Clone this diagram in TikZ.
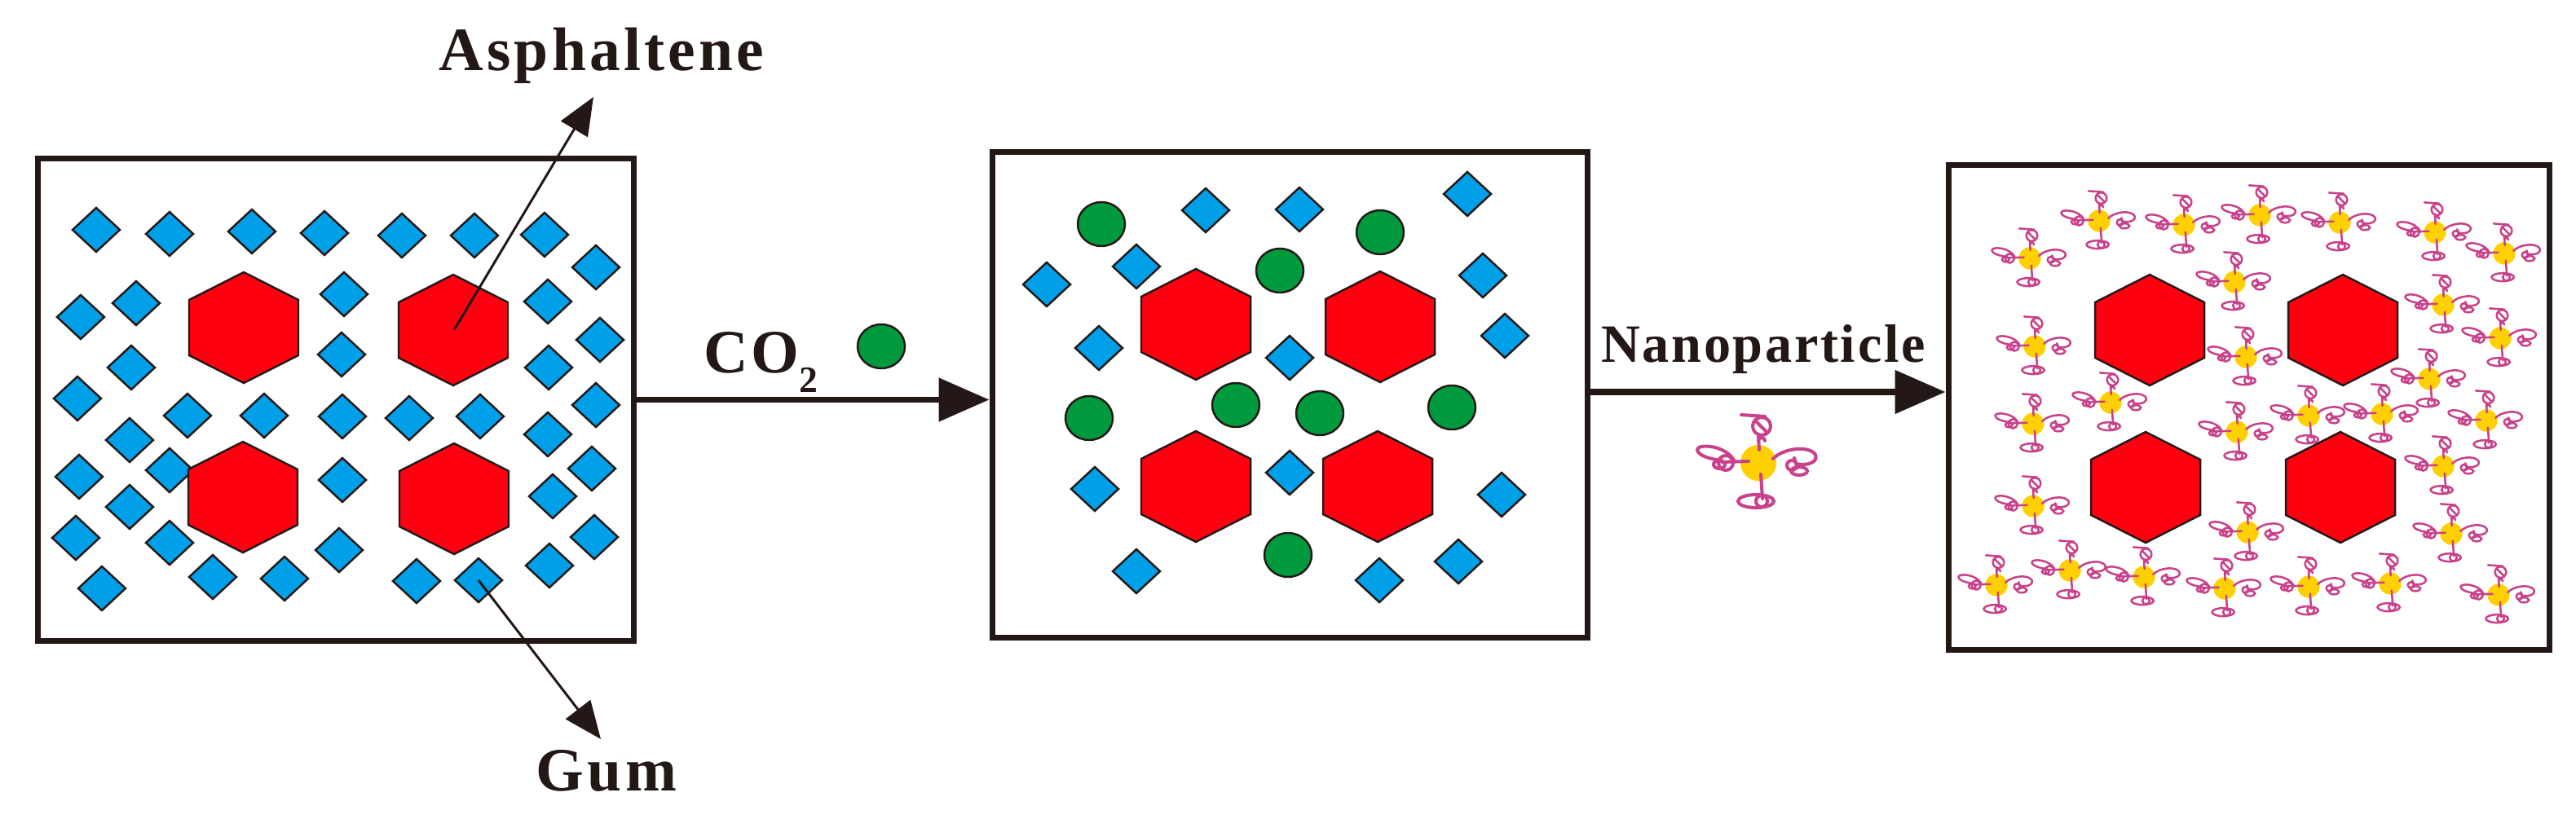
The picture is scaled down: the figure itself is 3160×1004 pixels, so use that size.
\documentclass[tikz,border=0pt]{standalone}
\usepackage{fontspec}
\setmainfont{Liberation Serif}
\usetikzlibrary{arrows.meta}
\definecolor{gblue}{RGB}{0,160,233}
\definecolor{ggreen}{RGB}{0,154,62}
\definecolor{hred}{RGB}{255,0,16}
\definecolor{npy}{RGB}{255,208,0}
\definecolor{npm}{RGB}{200,65,138}
\definecolor{ink}{RGB}{35,24,21}
\newcommand\hexa[2]{\draw[hexs] (#1,#2-68) -- (#1+67,#2-34) -- (#1+67,#2+34) -- (#1,#2+68) -- (#1-67,#2+34) -- (#1-67,#2-34) -- cycle;}
\newcommand\dia[2]{\draw[dias] (#1,#2-27) -- (#1+29,#2) -- (#1,#2+27) -- (#1-29,#2) -- cycle;}
\newcommand\gas[2]{\draw[gass] (#1,#2) ellipse [x radius=29, y radius=27];}
\newcommand\nanop[3]{\begin{scope}[shift={(#1,#2)},scale=#3,np/.style={draw=npm,line width=#3*2.3pt,line cap=round}]
 \fill[npy] (0,0) circle [radius=22];
 % left
 \draw[np] (-12,-2) -- (-45,-1);
 \draw[np] (-30,-3) .. controls (-40,-22) and (-75,-24) .. (-75,-16) .. controls (-74,-8) and (-55,-4) .. (-45,-3);
 \draw[np] (-40,0) circle [radius=9];
 \draw[np] (-48,2) ellipse [x radius=7, y radius=5];
 % right
 \draw[np] (18,-5) .. controls (30,-18) and (62,-22) .. (70,-10) .. controls (74,0) and (58,4) .. (46,1);
 \draw[np] (41,3) circle [radius=6];
 \draw[np] (50,10) ellipse [x radius=10, y radius=5];
 \draw[np] (44,-6) -- (48,6);
 % up
 \draw[np] (1,-16) -- (0,-33);
 \draw[np] (4,-45) circle [radius=11];
 \draw[np] (-21,-59) -- (8,-57);
 \draw[np] (-4,-52) -- (10,-38);
 \draw[np] (8,-27) arc (0:-180:4);
 % down
 \draw[np] (3,14) -- (5,44);
 \draw[np] (-3,47) ellipse [x radius=22, y radius=8];
 \draw[np] (4,47) circle [radius=7];
\end{scope}}
\begin{document}
\begin{tikzpicture}[x=0.02cm,y=-0.02cm,
  box/.style={draw=ink,line width=4pt,fill=white,inner sep=0pt},
  hexs/.style={draw=ink,fill=hred,line width=1.4pt,line join=miter},
  dias/.style={draw=ink,fill=gblue,line width=1.4pt},
  gass/.style={draw=ink,fill=ggreen,line width=1.4pt},
  bigarrow/.style={draw=ink,line width=4.5pt,-{Triangle[length=1.24cm,width=1.04cm]}},
  pointer/.style={draw=ink,line width=1.7pt,-{Triangle[length=0.92cm,width=0.76cm]}},
  lab/.style={font=\bfseries\fontsize{43}{48}\selectfont\addfontfeature{LetterSpace=5.5},text=ink,inner sep=0pt}]
\useasboundingbox (0,0) rectangle (3160,1004);
\node[box,minimum width=14.64cm,minimum height=11.86cm] (b1) at (412,490.5) {};
\node[box,minimum width=14.62cm,minimum height=11.94cm] (b2) at (1582.5,484.5) {};
\node[box,minimum width=14.76cm,minimum height=11.92cm] (b3) at (2759,500) {};
% box 1 gum
\foreach \x/\y in {118/282,208/287,309/284,398/286,493/289,582/289,668/288,731/328,
 99/389,167/372,422/361,672/370,736/417,161/451,419/435,673/451,95/489,230/510,324/510,
 420/511,502/513,589/511,731/497,159/540,672/533,97/585,208/577,420/589,726/575,678/609,
 159/622,93/660,208/666,416/675,729/659,674/694,125/722,261/708,349/710,511/713,587/712}
 {\dia{\x}{\y}}
\hexa{299}{402}\hexa{556}{405}\hexa{298}{610}\hexa{557}{612}
% box 2
\foreach \x/\y in {1479/258,1594/257,1800/238,1394/327,1284/349,1819/338,1348/427,1582/439,
 1846/412,1582/580,1343/600,1842/607,1394/701,1692/712,1789/689} {\dia{\x}{\y}}
\foreach \x/\y in {1351/275,1570/332,1693/285,1336/513,1516/497,1619/507,1781/500,1580/681} {\gas{\x}{\y}}
\hexa{1467}{398}\hexa{1693}{401}\hexa{1467}{597}\hexa{1690}{597}
% box 3
\hexa{2637}{405}\hexa{2874}{405}\hexa{2632}{598}\hexa{2871}{598}
\foreach \x/\y in {2490/317,2575/271,2679/276,2772/264,2870/273,2987/285,3072/311,2741/346,
 2997/374,2496/425,2755/438,3067/415,2980/465,2589/494,2494/520,2744/530,2832/510,2922/508,
 3050/516,2997/572,2494/621,2757/653,3007/655,2449/718,2539/700,2630/708,2729/722,2832/720,
 2932/716,3065/730} {\nanop{\x}{\y}{0.62}}
% arrows and labels
\draw[bigarrow] (b1.east) -- (b1.east -| b2.west);
\draw[bigarrow] (b2.east |- 0,481) -- (b3.west |- 0,481);
\coordinate (asph) at (557,405);
\coordinate (asphtip) at (728,119);
\coordinate (gum) at (587,712);
\coordinate (gumtip) at (737,907);
\draw[pointer] (asph) -- (asphtip);
\draw[pointer] (gum) -- (gumtip);
\node[lab,anchor=base] (tA) at (738,86) {Asphaltene};
\node[lab,anchor=base] (tG) at (744,970) {Gum};
\node[lab,anchor=base west] (tC) at (863,457) {CO\raisebox{-0.32em}{\fontsize{26}{26}\selectfont 2}};
\gas{1081}{425}
\node[lab,anchor=base,font=\bfseries\fontsize{37.7}{42}\selectfont\addfontfeature{LetterSpace=4}] (tN) at (2163,444) {Nanoparticle};
\nanop{2157}{568}{1}
\end{tikzpicture}
\end{document}
